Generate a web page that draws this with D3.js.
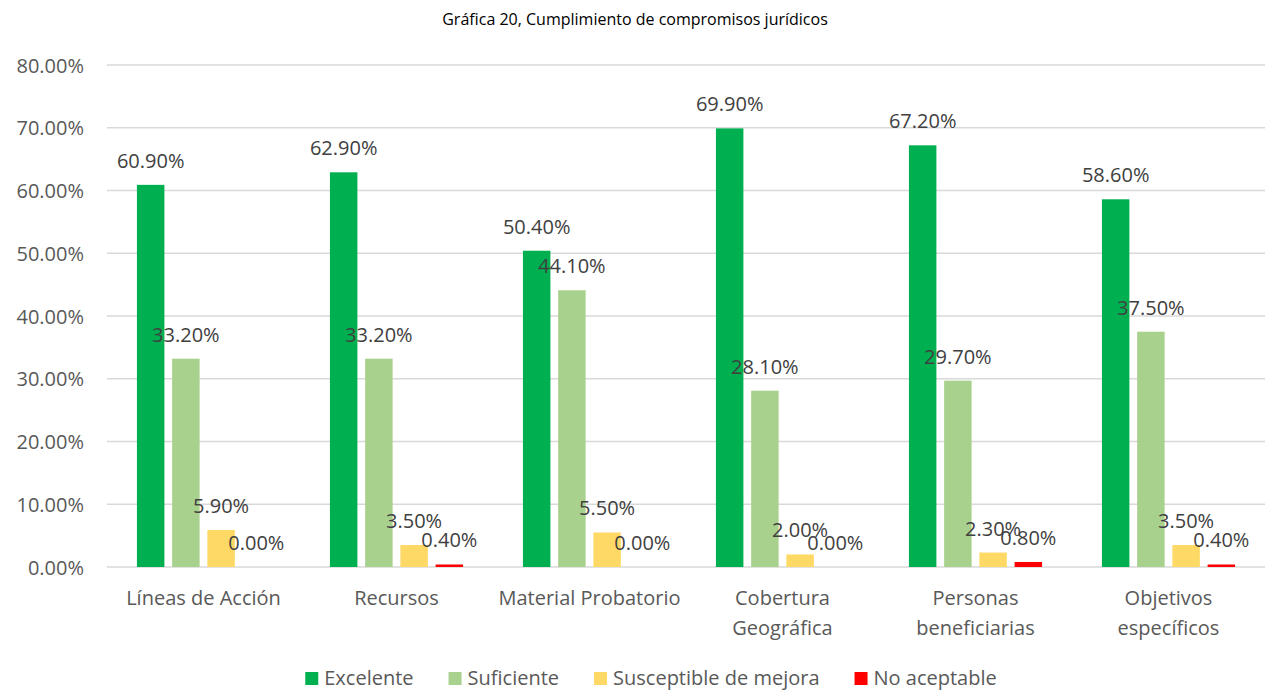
<!DOCTYPE html>
<html>
<head>
<meta charset="utf-8">
<script src="https://cdn.jsdelivr.net/npm/d3@7"></script>
<style>
  body { margin: 0; background: #fff; }
  text { font-family: "Open Sans", "Lato", sans-serif; }
</style>
</head>
<body>
<svg id="chart" width="1270" height="692"></svg>
<script>
// data
const categories = [["Líneas de Acción"], ["Recursos"], ["Material Probatorio"], ["Cobertura", "Geográfica"], ["Personas", "beneficiarias"], ["Objetivos", "específicos"]];
const seriesNames = ["Excelente", "Suficiente", "Susceptible de mejora", "No aceptable"];
const seriesColors = ["#00B050", "#A9D18E", "#FFD966", "#FF0000"];
const excelente = [60.9, 62.9, 50.4, 69.9, 67.2, 58.6];
const suficiente = [33.2, 33.2, 44.1, 28.1, 29.7, 37.5];
const susceptible = [5.9, 3.5, 5.5, 2.0, 2.3, 3.5];
const noAceptable = [0.0, 0.4, 0.0, 0.0, 0.8, 0.4];
const yTicks = [0, 10, 20, 30, 40, 50, 60, 70, 80];

const seriesValues = [excelente, suficiente, susceptible, noAceptable];

const svg = d3.select("#chart");
const plotLeft = 107, plotRight = 1265, plotTop = 65, plotBottom = 567;

const catKeys = categories.map(c => c.join(" "));

const x0 = d3.scaleBand()
    .domain(catKeys)
    .range([plotLeft, plotRight])
    .paddingInner(0.27)
    .paddingOuter(0.135);

const x1 = d3.scaleBand()
    .domain(seriesNames)
    .range([0, x0.bandwidth()])
    .paddingInner(0.22)
    .paddingOuter(0.11);

const y = d3.scaleLinear().domain([0, 80]).range([plotBottom, plotTop]);

// title
svg.append("text")
    .attr("x", 635).attr("y", 25)
    .attr("text-anchor", "middle")
    .attr("font-size", 16)
    .attr("fill", "#000")
    .text("Gráfica 20, Cumplimiento de compromisos jurídicos");

// gridlines
svg.append("g").selectAll("line")
    .data(yTicks)
    .enter().append("line")
    .attr("x1", plotLeft).attr("x2", plotRight)
    .attr("y1", d => y(d)).attr("y2", d => y(d))
    .attr("stroke", "#d9d9d9")
    .attr("stroke-width", 1.3);

// y axis
const yAxis = svg.append("g")
    .attr("transform", `translate(${plotLeft - 20},0)`)
    .call(d3.axisLeft(y).tickValues(yTicks).tickSize(0).tickFormat(d => d.toFixed(2) + "%"));
yAxis.select(".domain").remove();
yAxis.selectAll("text")
    .attr("font-size", 20)
    .attr("fill", "#595959")
    .attr("dy", "0.35em")
    .style("font-family", '"Open Sans", sans-serif');

// bars
const groups = svg.append("g").selectAll("g")
    .data(catKeys)
    .enter().append("g")
    .attr("transform", d => `translate(${x0(d)},0)`);

groups.each(function (cat, ci) {
    const g = d3.select(this);
    seriesNames.forEach((s, si) => {
        const v = seriesValues[si][ci];
        g.append("rect")
            .attr("x", x1(s))
            .attr("y", y(v))
            .attr("width", x1.bandwidth())
            .attr("height", y(0) - y(v))
            .attr("fill", seriesColors[si]);
    });
    seriesNames.forEach((s, si) => {
        const v = seriesValues[si][ci];
        g.append("text")
            .attr("x", x1(s) + x1.bandwidth() / 2)
            .attr("y", y(v) - 17)
            .attr("text-anchor", "middle")
            .attr("font-size", 20)
            .attr("fill", "#404040")
            .text(v.toFixed(2) + "%");
    });
});

// category labels
const catLabels = svg.append("g").selectAll("text")
    .data(categories)
    .enter().append("text")
    .attr("x", (d, i) => x0(catKeys[i]) + x0.bandwidth() / 2)
    .attr("y", 605)
    .attr("text-anchor", "middle")
    .attr("font-size", 20)
    .attr("fill", "#595959");
catLabels.selectAll("tspan")
    .data(d => d)
    .enter().append("tspan")
    .attr("x", function () { return d3.select(this.parentNode).attr("x"); })
    .attr("dy", (d, i) => i === 0 ? 0 : 30)
    .text(d => d);

// legend
const legend = svg.append("g");
let lx = 0;
seriesNames.forEach((s, i) => {
    const item = legend.append("g").attr("transform", `translate(${lx},0)`);
    item.append("rect")
        .attr("x", 0).attr("y", 672)
        .attr("width", 13).attr("height", 13)
        .attr("fill", seriesColors[i]);
    const t = item.append("text")
        .attr("x", 19).attr("y", 685)
        .attr("font-size", 20)
        .attr("fill", "#595959")
        .text(s);
    lx += 19 + t.node().getComputedTextLength() + 35;
});
const legendW = lx - 35;
legend.attr("transform", `translate(${651 - legendW / 2},0)`);
</script>
</body>
</html>
